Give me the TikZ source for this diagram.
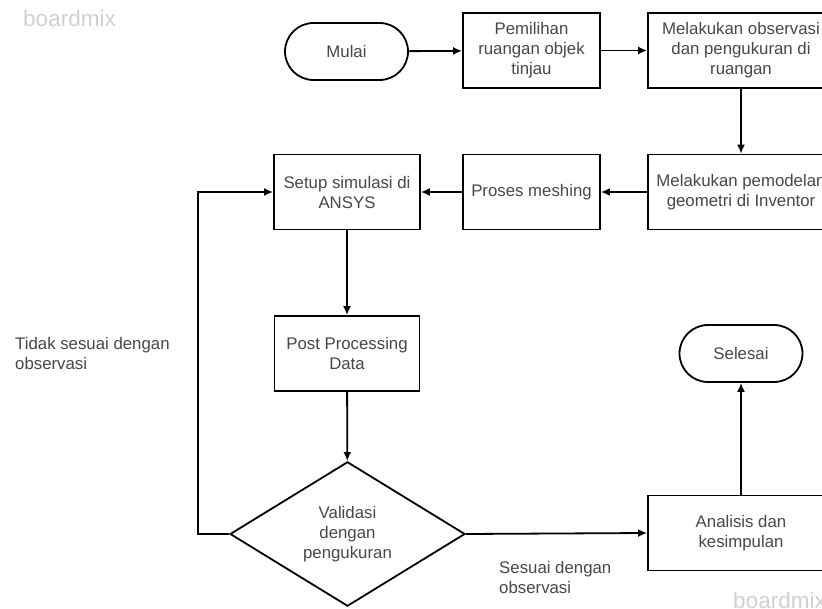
\documentclass[tikz,border=0pt]{standalone}
\usepackage{fontspec}
\setmainfont{Liberation Sans}
\usetikzlibrary{shapes.geometric,arrows.meta}
\definecolor{txt}{HTML}{474747}
\definecolor{wmark}{HTML}{D0D0D0}
\begin{document}
\begin{tikzpicture}[x=1pt,y=-1pt,line width=1.8pt,
 font=\fontsize{16.8}{20}\selectfont,text=txt,
 box/.style={draw,rectangle,align=center,inner sep=0pt,minimum width=#1,minimum height=75pt},
 term/.style={draw,rectangle,rounded corners=28.5pt,minimum width=123pt,minimum height=57pt},
 dec/.style={draw,diamond,align=center,inner sep=0pt,minimum width=235pt,minimum height=138pt},
 lbl/.style={align=left,anchor=west},
 wm/.style={text=wmark,font=\fontsize{22.5}{26}\selectfont,anchor=west},
 arr/.style={-{Latex[length=9pt,width=8pt]}}]
\clip (0,0) rectangle (822,609);
\node[wm] (wm1) at (19,18) {boardmix};
\node[wm] (wm2) at (729,600) {boardmix};
\node[term] (mulai) at (346.5,51.5) {Mulai};
\node[box=137pt] (pilih) at (531.5,50.5) {Pemilihan\\ruangan objek\\tinjau};
\node[box=186pt] (obs) at (741,50.5) {Melakukan observasi\\dan pengukuran di\\ruangan};
\node[box=186pt] (model) at (741,192) {Melakukan pemodelan\\geometri di Inventor};
\node[box=137pt] (mesh) at (531.5,192) {Proses meshing};
\node[box=146pt] (setup) at (347,192) {Setup simulasi di\\ANSYS};
\node[box=145pt] (post) at (347,353.5) {Post Processing\\Data};
\node[dec] (valid) at (347.5,534) {Validasi\\dengan\\pengukuran};
\node[box=186pt] (anal) at (741,533) {Analisis dan\\kesimpulan};
\node[term] (selesai) at (741,353.5) {Selesai};
\node[lbl] (tidak) at (11,353) {Tidak sesuai dengan\\observasi};
\node[lbl] (sesuai) at (495,577) {Sesuai dengan\\observasi};
\draw[arr] (mulai)--(pilih);
\draw[arr] (pilih)--(obs);
\draw[arr] (obs)--(model);
\draw[arr] (model)--(mesh);
\draw[arr] (mesh)--(setup);
\draw[arr] (setup)--(post);
\draw[arr] (post)--(valid);
\draw[arr] (valid.west)--++(-31,0)|-(setup.west);
\draw[arr] (valid.east)--(anal.west);
\draw[arr] (anal)--(selesai);
\end{tikzpicture}
\end{document}
